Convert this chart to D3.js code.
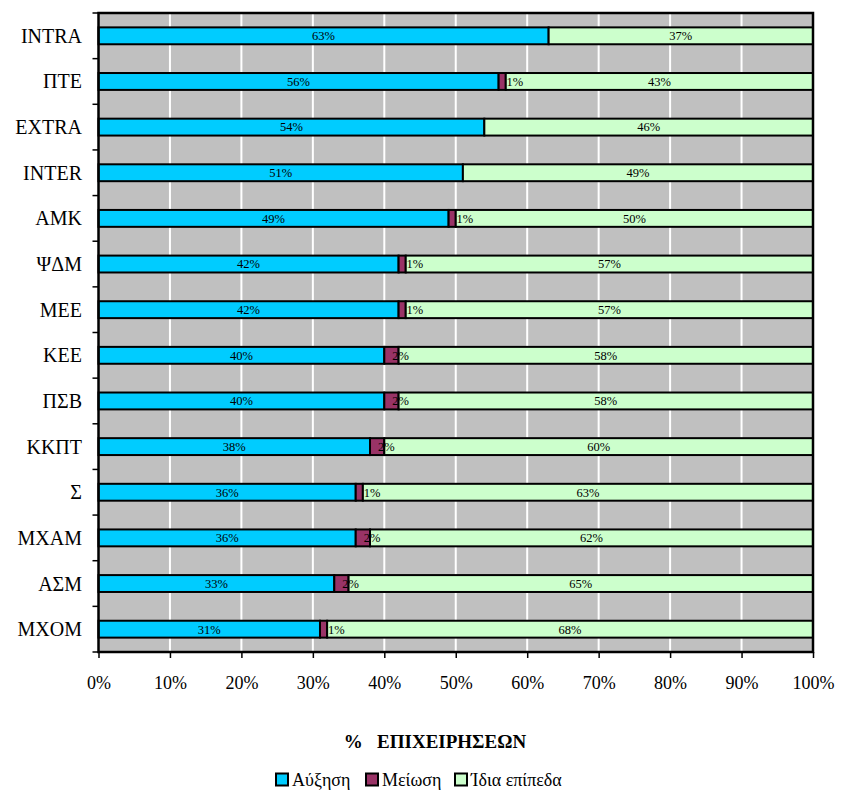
<!DOCTYPE html>
<html><head><meta charset="utf-8">
<script src="https://cdn.jsdelivr.net/npm/d3@7"></script>
<style>body{margin:0;background:#fff} svg text{font-family:"Liberation Serif", serif;}</style>
</head><body>
<svg id="c" width="841" height="791"></svg>
<script>
const categories = ["INTRA","ΠΤΕ","EXTRA","INTER","ΑΜΚ","ΨΔΜ","ΜΕΕ","ΚΕΕ","ΠΣΒ","ΚΚΠΤ","Σ","ΜΧΑΜ","ΑΣΜ","ΜΧΟΜ"];
const increase = [63,56,54,51,49,42,42,40,40,38,36,36,33,31];
const decrease = [0,1,0,0,1,1,1,2,2,2,1,2,2,1];
const same = [37,43,46,49,50,57,57,58,58,60,63,62,65,68];
const seriesNames = ["Αύξηση","Μείωση","Ίδια επίπεδα"];
const seriesColors = ["#00CCFF","#993366","#CCFFCC"];
const xTicks = [0,10,20,30,40,50,60,70,80,90,100];
const xTitle = "%   ΕΠΙΧΕΙΡΗΣΕΩΝ";

const font = "Liberation Serif";
const svg = d3.select("#c");
const m = {l:98.5, r:813, t:13, b:652};
const x = d3.scaleLinear().domain([0,100]).range([m.l, m.r]);
const y = d3.scaleBand().domain(categories).range([m.t, m.b]).paddingInner(0.63).paddingOuter(0.315);
const yb = d3.scaleBand().domain(categories).range([m.t, m.b]);

svg.append("rect").attr("x",m.l).attr("y",m.t).attr("width",m.r-m.l).attr("height",m.b-m.t).attr("fill","#C0C0C0");
svg.append("g").selectAll("line").data(xTicks.slice(1,-1)).join("line")
  .attr("x1",d=>x(d)).attr("x2",d=>x(d)).attr("y1",m.t).attr("y2",m.b)
  .attr("stroke","#fff").attr("stroke-width",2);

const data = categories.map((c,i)=>({c, v:[increase[i],decrease[i],same[i]]}));
const segs = [];
data.forEach(d=>{let acc=0; d.v.forEach((v,k)=>{ if(v>0) segs.push({c:d.c,k,x0:acc,x1:acc+v,v}); acc+=v;});});

svg.append("g").selectAll("rect").data(segs).join("rect")
  .attr("x",d=>x(d.x0)).attr("width",d=>x(d.x1)-x(d.x0))
  .attr("y",d=>y(d.c)).attr("height",y.bandwidth())
  .attr("fill",d=>seriesColors[d.k]).attr("stroke","#000").attr("stroke-width",2);

svg.append("g").selectAll("text").data(segs).join("text")
  .attr("x",d=>d.k===1 ? x(d.x0)+8 : (x(d.x0)+x(d.x1))/2)
  .attr("y",d=>y(d.c)+y.bandwidth()/2)
  .attr("dy","0.35em").attr("text-anchor",d=>d.k===1?"start":"middle")
  .style("font-family",font).style("font-size","12.5px").attr("fill","#000")
  .text(d=>d.v+"%");

svg.append("rect").attr("x",m.l).attr("y",m.t).attr("width",m.r-m.l).attr("height",m.b-m.t)
  .attr("fill","none").attr("stroke","#000").attr("stroke-width",2.5);

// y axis ticks at band boundaries
const yEdges = categories.map(c=>yb(c)).concat([m.b]);
svg.append("g").selectAll("line").data(yEdges).join("line")
  .attr("x1",m.l-6).attr("x2",m.l).attr("y1",d=>d).attr("y2",d=>d)
  .attr("stroke","#000").attr("stroke-width",1.5);
svg.append("g").selectAll("text").data(categories).join("text")
  .attr("x",82).attr("y",d=>yb(d)+yb.bandwidth()/2).attr("dy","0.35em")
  .attr("text-anchor","end").style("font-family",font).style("font-size","20px").text(d=>d);

// x axis
const xAxis = d3.axisBottom(x).tickValues(xTicks).tickSize(6).tickFormat(d=>d+"%");
const gx = svg.append("g").attr("transform",`translate(0,${m.b})`).call(xAxis);
gx.attr("font-family",null).attr("font-size",null);
gx.select(".domain").remove();
gx.selectAll(".tick line").attr("stroke","#000").attr("stroke-width",1.5);
gx.selectAll(".tick text").style("font-family",font).style("font-size","18px").attr("fill","#000").attr("y",31).attr("dy","0.35em");

svg.append("text").attr("x",435).attr("y",741).attr("dy","0.35em").attr("text-anchor","middle")
  .style("font-family",font).style("font-size","19px").attr("font-weight","bold")
  .style("white-space","pre").text(xTitle);

// legend
const legX = [275,365,454];
const lg = svg.append("g").selectAll("g").data(seriesNames).join("g")
  .attr("transform",(d,i)=>`translate(${legX[i]},780)`);
lg.append("rect").attr("x",1).attr("y",-6.5).attr("width",12).attr("height",12)
  .attr("fill",(d,i)=>seriesColors[i]).attr("stroke","#000").attr("stroke-width",2);
lg.append("text").attr("x",17).attr("y",0).attr("dy","0.35em")
  .style("font-family",font).style("font-size","18px").text(d=>d);
</script>
</body></html>
